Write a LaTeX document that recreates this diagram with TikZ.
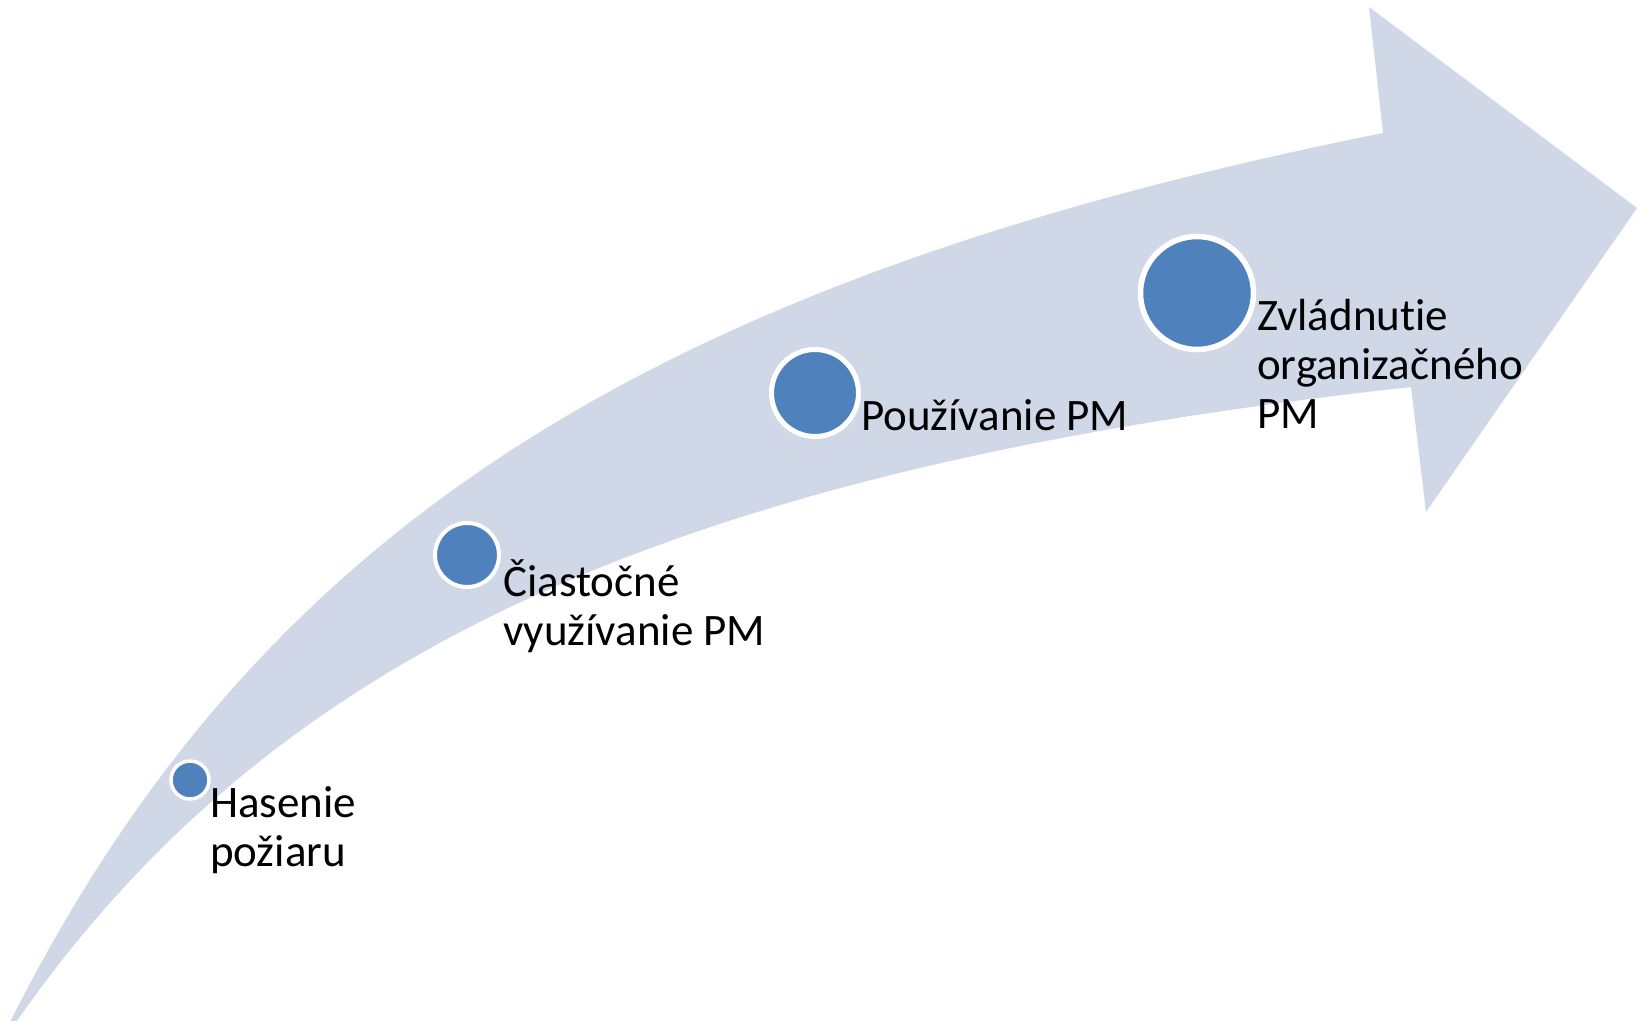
\documentclass[tikz,border=0pt]{standalone}
\usepackage{fontspec}
\setmainfont{Carlito}[Ligatures=NoCommon]
\definecolor{bandfill}{HTML}{D0D8E8}
\definecolor{dotfill}{HTML}{4F81BD}
\begin{document}
\begin{tikzpicture}[x=1pt,y=-1pt,
  stage/.style={circle, fill=dotfill, draw=white, inner sep=0pt},
  caption/.style={anchor=base west, inner sep=0pt, align=left, text=black,
    font=\fontsize{45}{49}\selectfont}]
\useasboundingbox (0,0) rectangle (1640,1020);

% curved band ending in an arrowhead
\begin{scope}
  \clip (0,0) rectangle (1640,1020);
  \fill[bandfill]
    (7,1028) .. controls (247,548) and (623,285) .. (1383,133)
    -- (1369,7) -- (1637,208) -- (1426,512) -- (1411,387)
    .. controls (661,469.5) and (267,658) .. (12,1028)
    -- cycle;
\end{scope}

% stages along the band
\node[stage, line width=3.5pt, minimum size=38pt] (s1) at (190,780) {};
\node[stage, line width=4pt,   minimum size=64pt] (s2) at (467,555) {};
\node[stage, line width=5pt,   minimum size=87pt] (s3) at (815,393) {};
\node[stage, line width=5.5pt, minimum size=113pt] (s4) at (1197,293) {};

% captions (anchored at the baseline of their last line)
\node[caption] (c1) at (210,866) {Hasenie\\požiaru};
\node[caption] (c2) at (503,645) {Čiastočné\\využívanie PM};
\node[caption] (c3) at (861,430) {Používanie PM};
\node[caption] (c4) at (1257,428) {Zvládnutie\\organizačného\\PM};
\end{tikzpicture}
\end{document}
